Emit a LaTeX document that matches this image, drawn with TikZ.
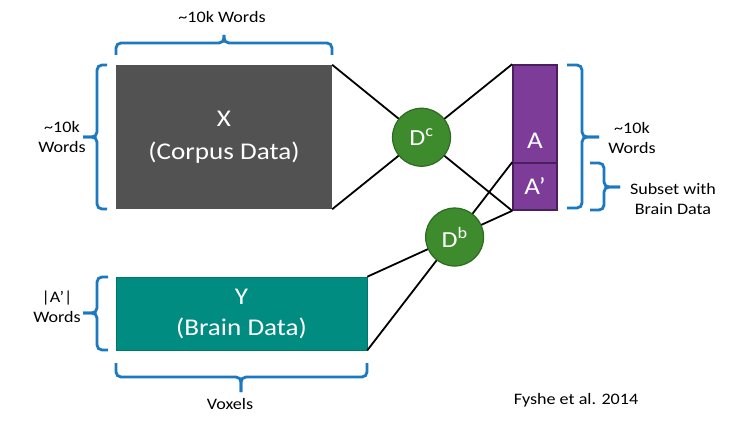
\documentclass[tikz,border=0pt]{standalone}
\usepackage{fontspec}
\setmainfont[FakeStretch=1.13]{Carlito}
\usepackage{xcolor}
\usepackage{tikz}
\usetikzlibrary{calc}

\definecolor{xgray}{HTML}{525252}
\definecolor{yteal}{HTML}{008C80}
\definecolor{apurple}{HTML}{7D3C98}
\definecolor{apurpleline}{HTML}{4A1F5E}
\definecolor{dgreen}{HTML}{3E8B2E}
\definecolor{dgreenline}{HTML}{2D6B21}
\definecolor{braceblue}{HTML}{1C78C0}

\tikzset{
  lbl/.style={font=\fontsize{16}{20}\selectfont, align=center, text=black},
  mat/.style={rectangle, inner sep=0pt, text=white, align=center},
  abox/.style={rectangle, fill=apurple, draw=apurpleline, line width=1.6pt, inner sep=0pt,
    minimum width=44pt, text=white, font=\fontsize{24}{28}\selectfont},
  dnode/.style={circle, fill=dgreen, draw=dgreenline, line width=1.2pt, minimum size=58pt,
    inner sep=0pt, text=white, font=\fontsize{23}{28}\selectfont},
  link/.style={draw=black, line width=1.8pt},
  brc/.style={draw=braceblue, line width=2.8pt, rounded corners=5pt},
}

\begin{document}
\begin{tikzpicture}[x=1pt, y=-1pt]
  \useasboundingbox[fill=white] (0,0) rectangle (750,425);
  % data matrices
  \node[mat, fill=xgray, minimum width=216pt, minimum height=144pt,
    font=\fontsize{24}{33}\selectfont] (X) at (224,137) {X\\(Corpus Data)};
  \node[mat, fill=yteal, draw=yteal!85!black, line width=0.6pt, minimum width=251pt,
    minimum height=73pt, font=\fontsize{24}{31}\selectfont] (Y) at (241.5,313.5) {Y\\(Brain Data)};
  \node[abox, minimum height=98pt] (A) at (535,114) {};
  \node[abox, minimum height=47pt] (Ap) at (535,186.5) {A’};
  \node[text=white, font=\fontsize{24}{28}\selectfont] (Alab) at (535,141) {A};
  % crossing links
  \draw[link] (X.north east) -- (Ap.south west);
  \draw[link] (X.south east) -- (A.north west);
  \draw[link] (Y.north east) -- (Ap.south west);
  \draw[link] (Y.south east) -- (Ap.north west);
  % decoders sit where the links cross
  \node[dnode] (Dc) at (intersection of X.north east--Ap.south west and X.south east--A.north west) {D\textsuperscript{c}};
  \node[dnode] (Db) at (intersection of Y.north east--Ap.south west and Y.south east--Ap.north west) {D\textsuperscript{b}};
  % braces
  \draw[brc] (116,55) |- (224,43) -- (224,35);
  \draw[brc] (332,55) |- (224,43) -- (224,35);
  \draw[brc] (107,65) -| (97,137) -- (83,137);
  \draw[brc] (107,209) -| (97,137) -- (83,137);
  \draw[brc] (108,277) -| (97,313) -- (83,313);
  \draw[brc] (108,350) -| (97,313) -- (83,313);
  \draw[brc] (116,363) |- (241,377) -- (241,392);
  \draw[brc] (367,363) |- (241,377) -- (241,392);
  \draw[brc] (567,65) -| (582,137) -- (599,137);
  \draw[brc] (567,208) -| (582,137) -- (599,137);
  \draw[brc] (590,163) -| (604,187) -- (620,187);
  \draw[brc] (590,210) -| (604,187) -- (620,187);
  % labels
  \node[lbl] (topX) at (222,17) {\textasciitilde10k Words};
  \node[lbl] (leftX) at (62,137) {\textasciitilde10k\\Words};
  \node[lbl] (leftY) at (57,307) {|A’|\\Words};
  \node[lbl] (botY) at (230,404) {Voxels};
  \node[lbl] (rightA) at (632,138) {\textasciitilde10k\\Words};
  \node[lbl] (rightAp) at (673,199) {Subset with\\Brain Data};
  \node[lbl] (cite) at (576,400) {Fyshe et al. 2014};
\end{tikzpicture}
\end{document}
